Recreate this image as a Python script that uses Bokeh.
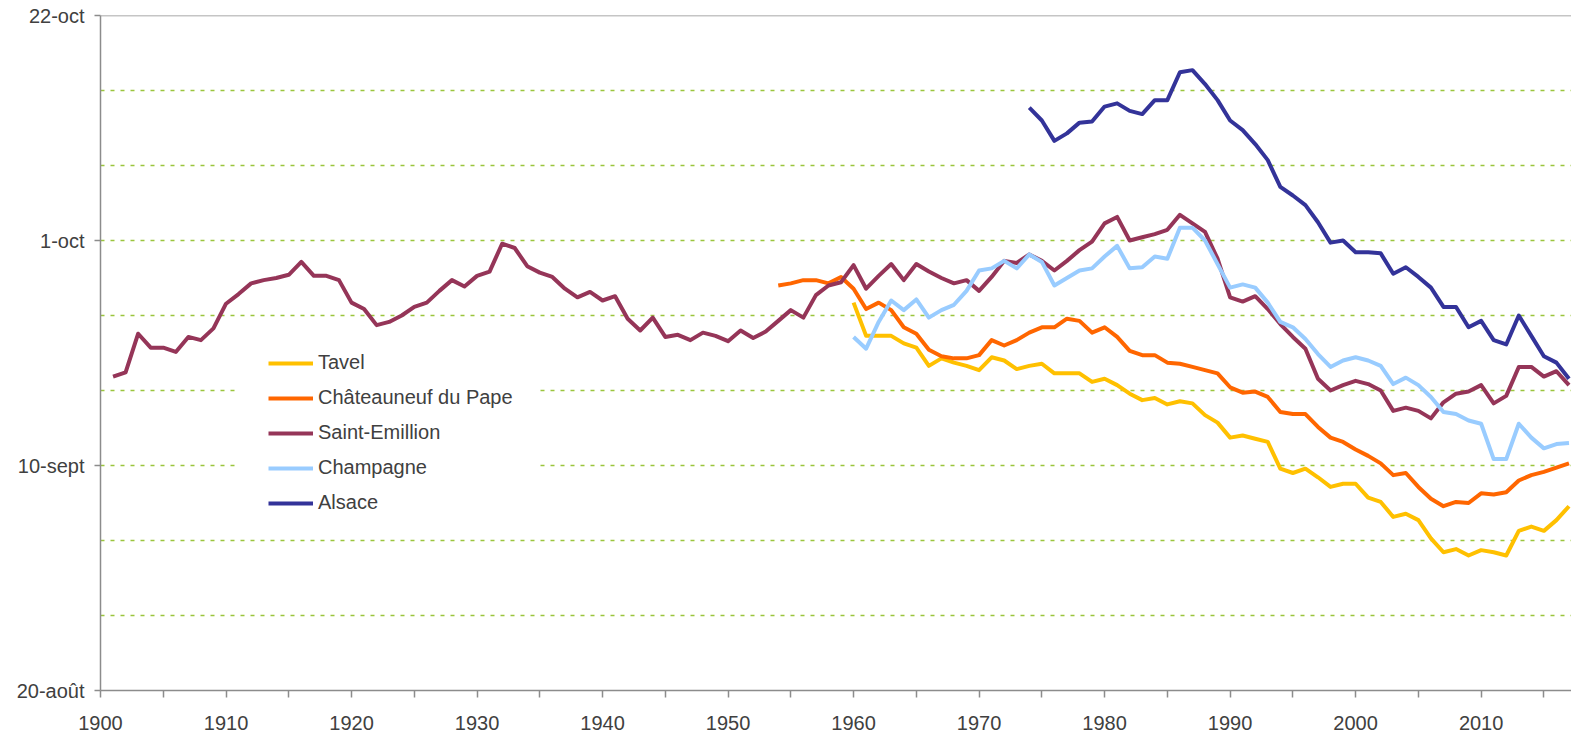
from bokeh.plotting import figure
from bokeh.models import FixedTicker, Span, Legend, LegendItem, BoxAnnotation
from bokeh.embed import file_html
from bokeh.resources import INLINE

# y values: days after 20 August (0 = 20-août, 21 = 10-sept, 42 = 1-oct, 63 = 22-oct)
y_tick_values = [0, 21, 42, 63]
y_tick_labels = ["20-août", "10-sept", "1-oct", "22-oct"]
x_tick_values = list(range(1900, 2020, 10))

series_names = ["Tavel", "Châteauneuf du Pape", "Saint-Emillion", "Champagne", "Alsace"]
series_colors = ["#FFC000", "#FF6600", "#953558", "#99CCFF", "#333399"]

years_tavel = list(range(1960, 2018))
tavel = [36.2, 33.1, 33.1, 33.1, 32.4, 32.0, 30.3, 31.0, 30.6, 30.3,
         29.9, 31.1, 30.8, 30.0, 30.3, 30.5, 29.6, 29.6, 29.6, 28.8,
         29.1, 28.5, 27.7, 27.1, 27.3, 26.7, 27.0, 26.8, 25.7, 25.0,
         23.6, 23.8, 23.5, 23.2, 20.7, 20.3, 20.7, 19.9, 19.0, 19.3,
         19.3, 18.0, 17.6, 16.2, 16.5, 15.9, 14.2, 12.9, 13.2, 12.6,
         13.1, 12.9, 12.6, 14.9, 15.3, 14.9, 15.9, 17.2]

years_cdp = list(range(1954, 2018))
chateauneuf = [37.8, 38.0, 38.3, 38.3, 38.0, 38.6,
               37.5, 35.6, 36.2, 35.5, 33.9, 33.3, 31.8, 31.2, 31.0, 31.0,
               31.3, 32.7, 32.2, 32.7, 33.4, 33.9, 33.9, 34.7, 34.5, 33.4,
               33.9, 33.0, 31.7, 31.3, 31.3, 30.6, 30.5, 30.2, 29.9, 29.6,
               28.3, 27.8, 27.9, 27.4, 26.0, 25.8, 25.8, 24.6, 23.6, 23.2,
               22.5, 21.9, 21.2, 20.1, 20.3, 19.0, 17.9, 17.2, 17.6, 17.5,
               18.4, 18.3, 18.5, 19.6, 20.1, 20.4, 20.8, 21.2]

years_se = list(range(1901, 2018))
saint_emilion = [29.3, 29.7, 33.3, 32.0, 32.0, 31.6, 33.0, 32.7, 33.8,
                 36.1, 37.0, 38.0, 38.3, 38.5, 38.8, 40.0, 38.7, 38.7, 38.3,
                 36.2, 35.6, 34.1, 34.4, 35.0, 35.8, 36.2, 37.3, 38.3, 37.7,
                 38.7, 39.1, 41.7, 41.3, 39.6, 39.0, 38.6, 37.5, 36.7, 37.2,
                 36.4, 36.8, 34.7, 33.6, 34.8, 33.0, 33.2, 32.7, 33.4, 33.1,
                 32.6, 33.6, 32.9, 33.5, 34.5, 35.5, 34.8, 36.9, 37.8, 38.1,
                 39.7, 37.5, 38.7, 39.8, 38.3, 39.8, 39.1, 38.5, 38.0, 38.3,
                 37.3, 38.6, 40.1, 39.9, 40.7, 40.1, 39.2, 40.1, 41.1, 41.9,
                 43.6, 44.2, 42.0, 42.3, 42.6, 43.0, 44.4, 43.6, 42.8, 40.3,
                 36.7, 36.3, 36.8, 35.6, 34.2, 33.0, 31.9, 29.1, 28.0, 28.5,
                 28.9, 28.6, 28.0, 26.1, 26.4, 26.1, 25.4, 26.9, 27.7, 27.9,
                 28.5, 26.8, 27.5, 30.2, 30.2, 29.3, 29.8, 28.5]

years_champ = list(range(1960, 2018))
champagne = [33.0, 31.9, 34.4, 36.4, 35.5, 36.5, 34.8, 35.5, 36.0, 37.3,
             39.2, 39.4, 40.1, 39.4, 40.7, 40.0, 37.8, 38.5, 39.2, 39.4,
             40.5, 41.5, 39.4, 39.5, 40.5, 40.3, 43.2, 43.2, 42.0, 39.8,
             37.6, 37.9, 37.6, 36.2, 34.4, 33.9, 32.8, 31.4, 30.2, 30.8,
             31.1, 30.8, 30.3, 28.6, 29.2, 28.5, 27.4, 26.0, 25.8, 25.2,
             24.9, 21.6, 21.6, 24.9, 23.6, 22.6, 23.0, 23.1]

years_alsace = list(range(1974, 2018))
alsace = [54.4, 53.2, 51.3, 52.0, 53.0, 53.1,
          54.5, 54.8, 54.1, 53.8, 55.1, 55.1, 57.7, 57.9, 56.6, 55.1,
          53.2, 52.3, 51.0, 49.5, 47.0, 46.2, 45.3, 43.7, 41.8, 42.0,
          40.9, 40.9, 40.8, 38.9, 39.5, 38.6, 37.6, 35.8, 35.8, 33.9,
          34.5, 32.7, 32.3, 35.0, 33.1, 31.2, 30.6, 29.1]

TEXT = "#404040"
AXIS = "#8C8C8C"
FONT = "Liberation Sans"

p = figure(width=1571, height=735, x_range=(1900, 2017.2), y_range=(0, 63),
           output_backend="svg", toolbar_location=None,
           min_border_left=100, min_border_right=0, min_border_top=15, min_border_bottom=45)
p.outline_line_color = None
p.background_fill_color = "white"

# axes
p.xaxis.ticker = FixedTicker(ticks=x_tick_values, minor_ticks=list(range(1905, 2020, 10)))
p.yaxis.ticker = FixedTicker(ticks=y_tick_values, minor_ticks=[])
p.yaxis.major_label_overrides = {v: t for v, t in zip(y_tick_values, y_tick_labels)}
for ax in (p.xaxis[0], p.yaxis[0]):
    ax.axis_line_color = AXIS
    ax.axis_line_width = 1.5
    ax.major_tick_line_color = AXIS
    ax.minor_tick_line_color = AXIS
    ax.major_tick_line_width = 1.5
    ax.minor_tick_line_width = 1.5
    ax.major_tick_in = 0
    ax.minor_tick_in = 0
    ax.major_label_text_color = TEXT
    ax.major_label_text_font = FONT
    ax.major_label_text_font_size = "20px"
p.xaxis.major_tick_out = 7
p.xaxis.minor_tick_out = 7
p.xaxis.major_label_text_line_height = 1.0
p.xaxis.major_label_standoff = 18
p.yaxis.major_tick_out = 6
p.yaxis.minor_tick_out = 0
p.yaxis.major_label_standoff = 10

# grid
p.xgrid.grid_line_color = None
p.ygrid.ticker = FixedTicker(ticks=[7, 14, 21, 28, 35, 42, 49, 56])
p.ygrid.grid_line_color = "#9BC53D"
p.ygrid.grid_line_dash = "4 6"
p.ygrid.grid_line_width = 1.5

top_line = Span(location=63, dimension="width", line_color=AXIS, line_width=1.5)
p.add_layout(top_line)

# white area behind the legend (hides the grid lines there)
legend_bg = BoxAnnotation(left=1911.0, right=1935.0, bottom=14.3, top=34.3,
                          fill_color="white", fill_alpha=1.0, line_color=None, level="underlay")
p.add_layout(legend_bg)

data = [(years_tavel, tavel), (years_cdp, chateauneuf), (years_se, saint_emilion),
        (years_champ, champagne), (years_alsace, alsace)]
items = []
for (xs, ys), name, col in zip(data, series_names, series_colors):
    r = p.line(xs, ys, line_color=col, line_width=4, line_join="round")
    items.append(LegendItem(label=name, renderers=[r]))

legend = Legend(items=items, location=(168, 176), padding=0, spacing=12, margin=0,
                glyph_width=45, glyph_height=20, label_height=20, label_standoff=5,
                label_text_font=FONT, label_text_font_size="20px", label_text_color=TEXT,
                border_line_color=None, background_fill_color="white", background_fill_alpha=1.0)
p.add_layout(legend)

open("out.html", "w").write(file_html(p, INLINE))
